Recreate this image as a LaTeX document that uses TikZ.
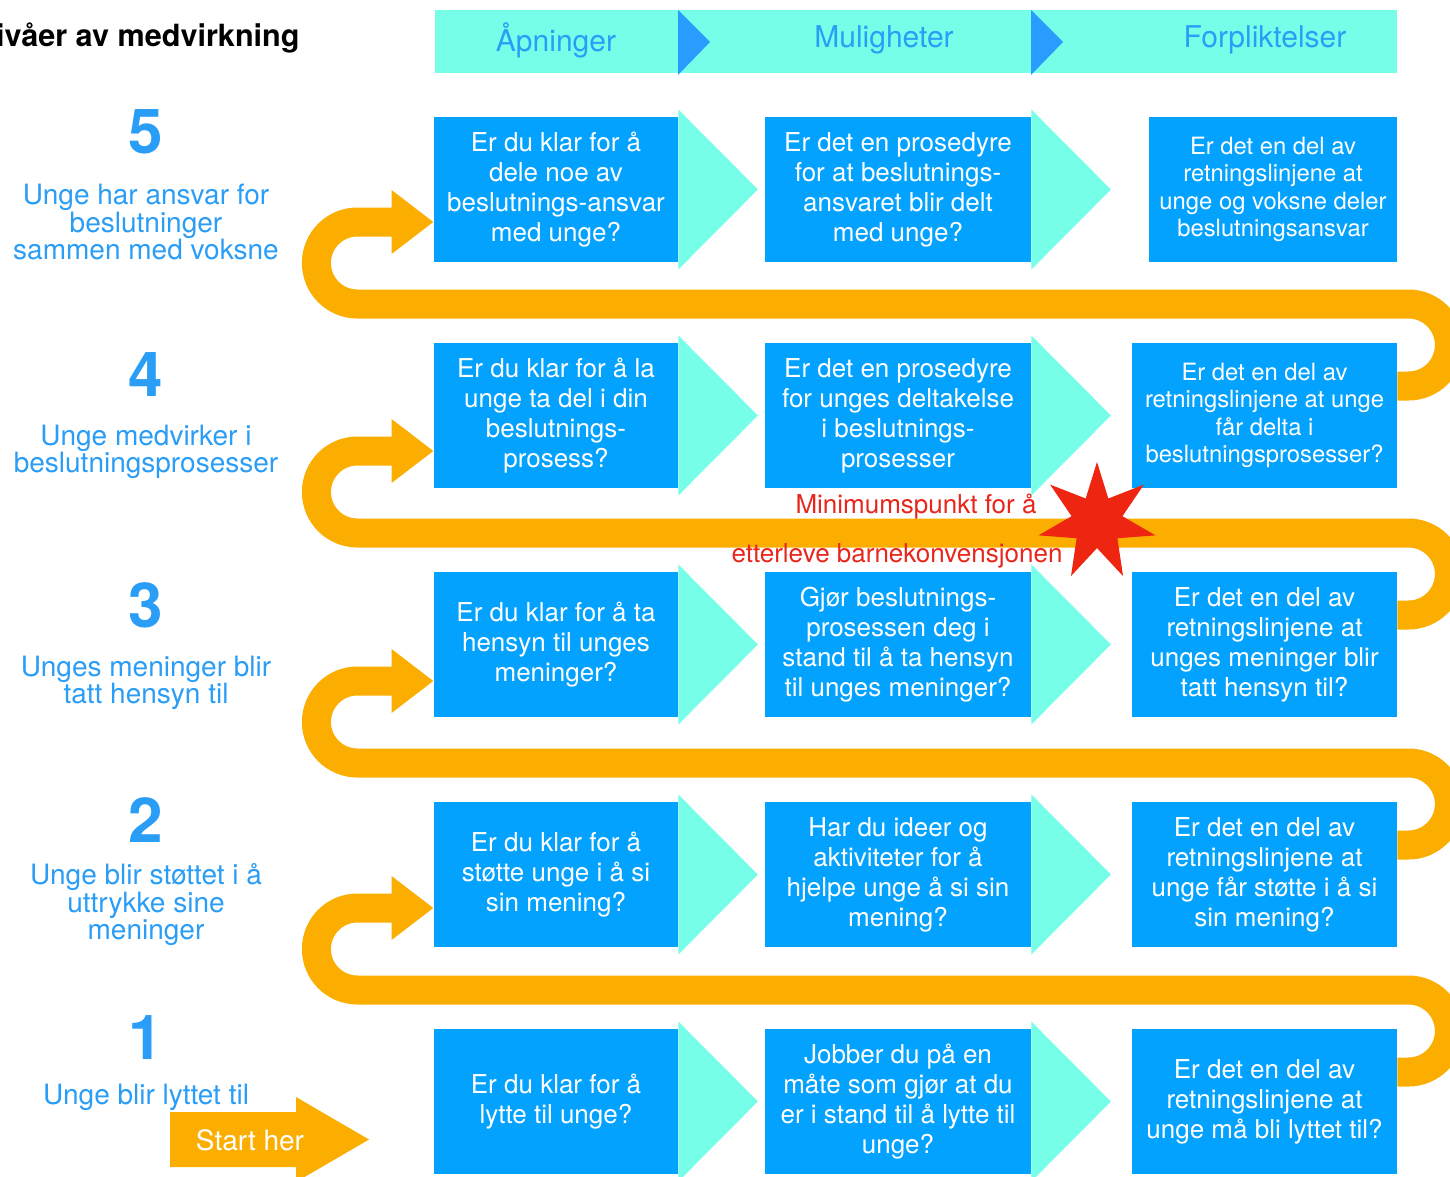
\documentclass[tikz,border=0pt]{standalone}
\usepackage{fontspec}
\setmainfont{TeX Gyre Heros}
\usetikzlibrary{shapes.geometric,calc,arrows.meta,positioning}
\definecolor{hblue}{HTML}{03A2FE}
\definecolor{hcyan}{HTML}{76FEE8}
\definecolor{hdark}{HTML}{2A9CFF}
\definecolor{hlabel}{HTML}{2A9DF6}
\definecolor{horange}{HTML}{FBAE00}
\definecolor{hred}{HTML}{E8261C}
\definecolor{hstar}{HTML}{EE2611}

\begin{document}
\begin{tikzpicture}[x=0.5pt,y=-0.5pt]

      \tikzset{
            qbox/.style = {rectangle, fill=hblue, text=white, align=center, inner sep=0pt,
                  minimum height=72.5pt, font=\fontsize{13}{15}\selectfont},
            qsmall/.style = {font=\fontsize{11.9}{13.75}\selectfont},
            level/.style = {text=hlabel, font=\bfseries\fontsize{31}{31}\selectfont},
            levtext/.style = {text=hlabel, align=center, font=\fontsize{14}{13.75}\selectfont},
            head/.style = {text=hlabel, font=\fontsize{15}{15}\selectfont},
            snake/.style = {draw=horange, line width=14.5pt, -{Triangle[length=21pt,width=30.5pt]}}
      }

      % Page (1 unit = 1 px of the original)
      \useasboundingbox (0,0) rectangle (1450,1177);
      \fill[white] (0,0) rectangle (1450,1177);

      % Header band with the two chevrons
      \fill[hcyan] (435,10) rectangle (1397,73);
      \foreach \x in {678,1031} {
            \fill[hdark] (\x,10) -- (\x+32,42) -- (\x,75) -- cycle;
      }
      \node[head] (hA) at (556,40) {Åpninger};
      \node[head] (hB) at (884,40) {Muligheter};
      \node[head] (hC) at (1265,40) {Forpliktelser};

      % Title (cut at the left edge)
      \node[anchor=east, inner sep=0pt, font=\bfseries\fontsize{15.3}{15.3}\selectfont] (title) at (300,38) {Nivåer av medvirkning};

      % Level 5
      \node[qbox, minimum width=122pt] (a5) at (556,189.5) {Er du klar for å\\dele noe av\\beslutnings-ansvar\\med unge?};
      \node[qbox, minimum width=133pt] (b5) at (898,189.5) {Er det en prosedyre\\for at beslutnings-\\ansvaret blir delt\\med unge?};
      \node[qbox, qsmall, minimum width=124pt] (c5) at (1273,189.5) {Er det en del av\\retningslinjene at\\unge og voksne deler\\beslutningsansvar};

      % Level 4
      \node[qbox, minimum width=122pt] (a4) at (556,415.5) {Er du klar for å la\\unge ta del i din\\beslutnings-\\prosess?};
      \node[qbox, minimum width=133pt] (b4) at (898,415.5) {Er det en prosedyre\\for unges deltakelse\\i beslutnings-\\prosesser};
      \node[qbox, qsmall, minimum width=132.5pt] (c4) at (1264.5,415.5) {Er det en del av\\retningslinjene at unge\\får delta i\\beslutningsprosesser?};

      % Level 3
      \node[qbox, minimum width=122pt] (a3) at (556,644.5) {Er du klar for å ta\\hensyn til unges\\meninger?};
      \node[qbox, minimum width=133pt] (b3) at (898,644.5) {Gjør beslutnings-\\prosessen deg i\\stand til å ta hensyn\\til unges meninger?};
      \node[qbox, minimum width=132.5pt] (c3) at (1264.5,644.5) {Er det en del av\\retningslinjene at\\unges meninger blir\\tatt hensyn til?};

      % Level 2
      \node[qbox, minimum width=122pt] (a2) at (556,874.5) {Er du klar for å\\støtte unge i å si\\sin mening?};
      \node[qbox, minimum width=133pt] (b2) at (898,874.5) {Har du ideer og\\aktiviteter for å\\hjelpe unge å si sin\\mening?};
      \node[qbox, minimum width=132.5pt] (c2) at (1264.5,874.5) {Er det en del av\\retningslinjene at\\unge får støtte i å si\\sin mening?};

      % Level 1
      \node[qbox, minimum width=122pt] (a1) at (556,1101.5) {Er du klar for å\\lytte til unge?};
      \node[qbox, minimum width=133pt] (b1) at (898,1101.5) {Jobber du på en\\måte som gjør at du\\er i stand til å lytte til\\unge?};
      \node[qbox, minimum width=132.5pt] (c1) at (1264.5,1101.5) {Er det en del av\\retningslinjene at\\unge må bli lyttet til?};

      % Cyan arrows between the columns
      \foreach \n in {a5,b5,a4,b4,a3,b3,a2,b2,a1,b1} {
            \fill[hcyan] ($(\n.north east)+(0,-7)$) -- ($(\n.east)+(79.5,0)$) -- ($(\n.south east)+(0,7)$) -- cycle;
      }

      % Orange path from one level up to the next
      \foreach \a/\b in {1/2,2/3,3/4,4/5} {
            \draw[snake] ($(c\a.east)+(0,-29.5)$) -- ++(11,0)
                  arc[start angle=90, end angle=-90, radius=41] -- ++(-1051,0)
                  arc[start angle=90, end angle=270, radius=41] coordinate (t) -- (t -| a\b.west);
      }

      % Start arrow
      \fill[horange] (170,1112) -- (296,1112) -- (296,1097) -- (369,1139.5)
            -- (296,1182) -- (296,1167) -- (170,1167) -- cycle;
      \node[text=white, font=\fontsize{14}{14}\selectfont] (start) at (250,1140) {Start her};

      % Levels on the left
      \node[level] (n5) at (146,132) {5};
      \node[levtext] (l5) at (146,222) {Unge har ansvar for\\beslutninger\\sammen med voksne};
      \node[level] (n4) at (146,374.5) {4};
      \node[levtext] (l4) at (146,452) {Unge medvirker i\\beslutningsprosesser};
      \node[level] (n3) at (146,605) {3};
      \node[levtext] (l3) at (146,683) {Unges meninger blir\\tatt hensyn til};
      \node[level] (n2) at (146,820) {2};
      \node[levtext] (l2) at (146,905) {Unge blir støttet i å\\uttrykke sine\\meninger};
      \node[level] (n1) at (146,1038) {1};
      \node[levtext] (l1) at (146,1097) {Unge blir lyttet til};

      % Minimum point
      \node[text=hred, font=\fontsize{13}{13}\selectfont] (min1) at (916,507) {Minimumspunkt for å};
      \node[text=hred, font=\fontsize{13}{13}\selectfont] (min2) at (897,556) {etterleve barnekonvensjonen};
      \node[star, star points=7, star point ratio=2.3, minimum size=60pt, inner sep=0pt, fill=hstar] (mark) at (1097,522) {};

\end{tikzpicture}
\end{document}
